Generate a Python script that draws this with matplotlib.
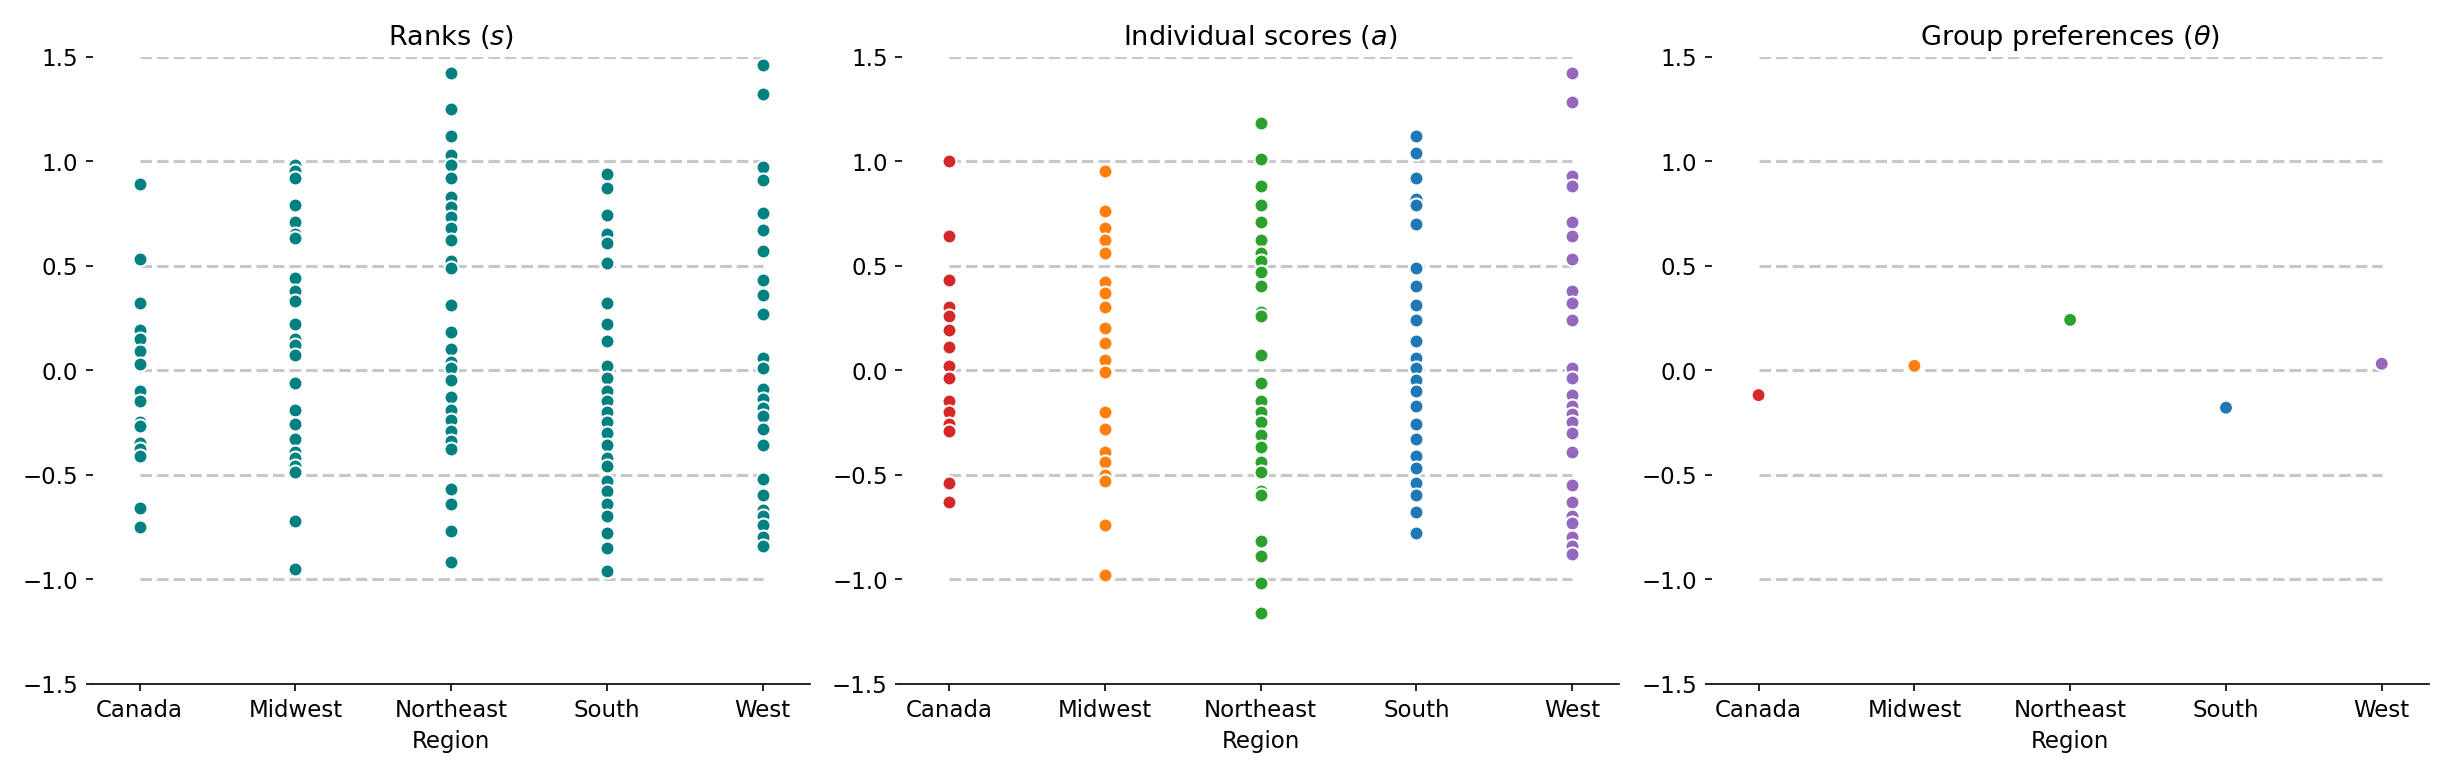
import matplotlib.pyplot as plt
import numpy as np

regions = ["Canada", "Midwest", "Northeast", "South", "West"]

ranks = {
    "Canada": [0.89, 0.53, 0.32, 0.19, 0.15, 0.09, 0.03, -0.1, -0.15, -0.25, -0.27, -0.35, -0.38, -0.41, -0.66, -0.75],
    "Midwest": [0.98, 0.95, 0.92, 0.79, 0.71, 0.65, 0.63, 0.44, 0.38, 0.33, 0.22, 0.15, 0.12, 0.07, -0.06, -0.19,
                -0.26, -0.33, -0.39, -0.42, -0.46, -0.49, -0.72, -0.95],
    "Northeast": [1.42, 1.25, 1.12, 1.03, 0.98, 0.92, 0.83, 0.78, 0.73, 0.68, 0.62, 0.52, 0.49, 0.31, 0.18, 0.10,
                  0.04, 0.01, -0.05, -0.13, -0.19, -0.24, -0.29, -0.34, -0.38, -0.57, -0.64, -0.77, -0.92],
    "South": [0.94, 0.87, 0.74, 0.65, 0.61, 0.51, 0.32, 0.22, 0.14, 0.02, -0.04, -0.1, -0.15, -0.2, -0.25, -0.3,
              -0.36, -0.42, -0.46, -0.53, -0.58, -0.64, -0.7, -0.78, -0.85, -0.96],
    "West": [1.46, 1.32, 0.97, 0.91, 0.75, 0.67, 0.57, 0.43, 0.36, 0.27, 0.06, 0.01, -0.09, -0.14, -0.18, -0.22,
             -0.28, -0.36, -0.52, -0.6, -0.67, -0.7, -0.74, -0.8, -0.84],
}

scores = {
    "Canada": [1.0, 0.64, 0.43, 0.3, 0.26, 0.19, 0.11, 0.02, -0.04, -0.15, -0.2, -0.26, -0.29, -0.54, -0.63],
    "Midwest": [0.95, 0.76, 0.68, 0.62, 0.56, 0.42, 0.37, 0.3, 0.2, 0.13, 0.05, -0.01, -0.2, -0.28, -0.39, -0.44,
                -0.5, -0.53, -0.74, -0.98],
    "Northeast": [1.18, 1.01, 0.88, 0.79, 0.71, 0.62, 0.56, 0.52, 0.47, 0.4, 0.28, 0.26, 0.07, -0.06, -0.15, -0.2,
                  -0.25, -0.31, -0.37, -0.44, -0.49, -0.58, -0.6, -0.82, -0.89, -1.02, -1.16],
    "South": [1.12, 1.04, 0.92, 0.82, 0.79, 0.7, 0.49, 0.4, 0.31, 0.24, 0.14, 0.06, 0.01, -0.05, -0.1, -0.17,
              -0.26, -0.33, -0.41, -0.47, -0.54, -0.6, -0.68, -0.78],
    "West": [1.42, 1.28, 0.93, 0.88, 0.71, 0.64, 0.53, 0.38, 0.32, 0.24, 0.01, -0.04, -0.12, -0.17, -0.21, -0.25,
             -0.3, -0.39, -0.55, -0.63, -0.7, -0.73, -0.8, -0.84, -0.88],
}

theta = [-0.12, 0.02, 0.24, -0.18, 0.03]

region_colors = ["tab:red", "tab:orange", "tab:green", "tab:blue", "tab:purple"]
teal = "#008080"

fig, axes = plt.subplots(1, 3, figsize=(16.34, 5.17), dpi=150)


def style(ax, title):
    ax.hlines(np.arange(-1.0, 1.51, 0.5), 0, 4, colors="#c8c8c8", linestyles="--", lw=1.5, zorder=0)
    ax.set_ylim(-1.5, 1.5)
    ax.set_yticks(np.arange(-1.5, 1.51, 0.5))
    ax.set_xlim(-0.3, 4.3)
    ax.set_xticks(range(len(regions)))
    ax.set_xticklabels(regions, fontsize=11)
    ax.tick_params(axis="y", labelsize=11)
    ax.set_xlabel("Region", fontsize=11)
    ax.set_title(title, fontsize=13)
    for s in ["top", "right", "left"]:
        ax.spines[s].set_visible(False)


ax = axes[0]
for i, r in enumerate(regions):
    ax.scatter([i] * len(ranks[r]), ranks[r], s=45, color=teal, edgecolor="white", lw=1, zorder=3)
style(ax, "Ranks ($s$)")

ax = axes[1]
for i, r in enumerate(regions):
    ax.scatter([i] * len(scores[r]), scores[r], s=45, color=region_colors[i], edgecolor="white", lw=1, zorder=3)
style(ax, "Individual scores ($a$)")

ax = axes[2]
ax.scatter(range(len(regions)), theta, s=45, color=region_colors, edgecolor="white", lw=1, zorder=3)
style(ax, r"Group preferences ($\theta$)")

fig.tight_layout()
fig.savefig("out.png")
